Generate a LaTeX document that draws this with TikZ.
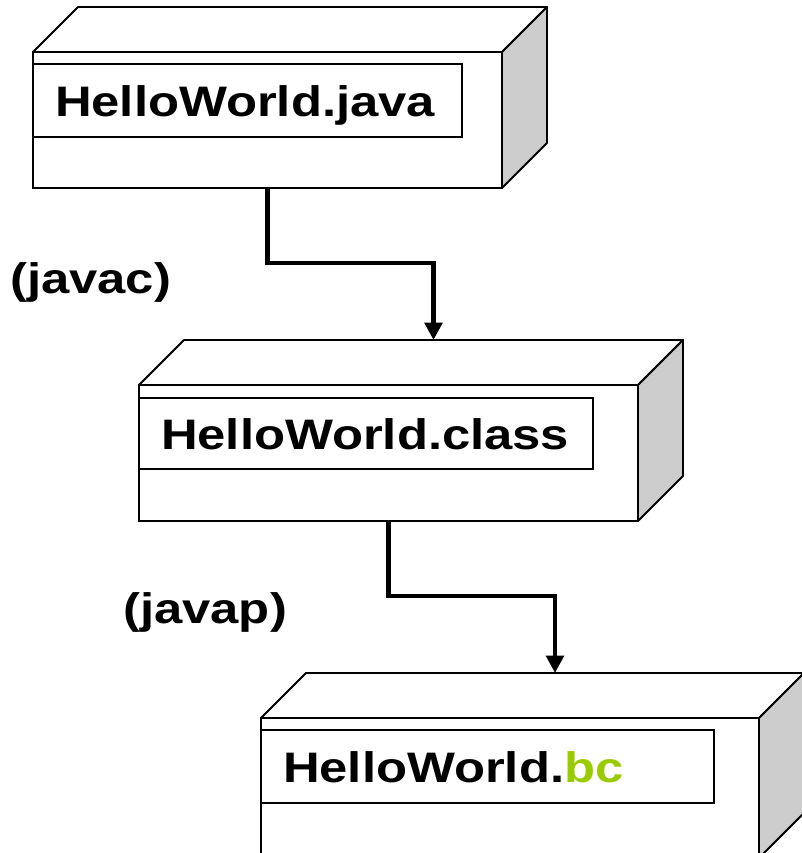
\documentclass[tikz,border=0pt]{standalone}
\usepackage{fontspec}
\newfontfamily\boxfont{Liberation Sans}[FakeStretch=1.19]
\usetikzlibrary{arrows.meta}
\definecolor{sidegray}{RGB}{204,204,204}
\definecolor{bcgreen}{RGB}{153,204,0}

\begin{document}
\begin{tikzpicture}[x=0.75pt,y=-0.75pt,
    face/.style={draw,line width=1.4pt,fill=white,rectangle,outer sep=0pt,
      inner sep=0pt,anchor=north west},
    namebox/.style={draw,line width=1.4pt,rectangle,outer sep=0pt,anchor=north west,
      inner xsep=16.5pt,inner ysep=0pt,align=left,text height=23.25pt,text depth=0pt,
      font=\boxfont\bfseries\fontsize{32}{36}\selectfont},
    tool/.style={anchor=base west,inner sep=0pt,
      font=\boxfont\bfseries\fontsize{32}{36}\selectfont},
    side/.style={fill=sidegray,draw=black,line width=1.4pt,line join=round},
    flow/.style={line width=3.4pt,-{Triangle[length=13pt,width=13pt]}}]
  \clip (0,0) rectangle (802,853);
  % front faces
  \node[face,minimum width=351.75pt,minimum height=102pt] (java) at (33,52) {};
  \node[face,minimum width=374.25pt,minimum height=102pt] (cls) at (139,385) {};
  \node[face,minimum width=373.5pt,minimum height=105pt] (bc) at (261,718) {};
  % top and side of each box
  \foreach \b in {java,cls,bc} {
    \draw[line width=1.4pt,line join=round] (\b.north west) -- ++(45,-45)
      -- ([shift={(45,-45)}]\b.north east) -- (\b.north east);
    \draw[side] (\b.north east) -- ++(45,-45) -- ([shift={(45,-45)}]\b.south east)
      -- (\b.south east) -- cycle;
  }
  \node[namebox,minimum height=54.75pt,text width=288.75pt] (javaname)
    at ([yshift=-9pt]java.north west) {HelloWorld.java};
  \node[namebox,minimum height=53.5pt,text width=307.5pt] (clsname)
    at ([yshift=-9.75pt]cls.north west) {HelloWorld.class};
  \node[namebox,minimum height=54.75pt,text width=306.75pt] (bcname)
    at ([yshift=-9pt]bc.north west) {HelloWorld.\textcolor{bcgreen}{bc}};
  \coordinate (clstop) at ([shift={(45,-45)}]cls.north);
  \coordinate (bctop) at ([shift={(45,-45)}]bc.north);
  \draw[flow] (java.south) -- ++(0,75) -| (clstop);
  \draw[flow] (cls.south) -- ++(0,75) -| (bctop);
  \node[tool] (javac) at (10,293) {(javac)};
  \node[tool] (javap) at (123,623) {(javap)};
\end{tikzpicture}
\end{document}
